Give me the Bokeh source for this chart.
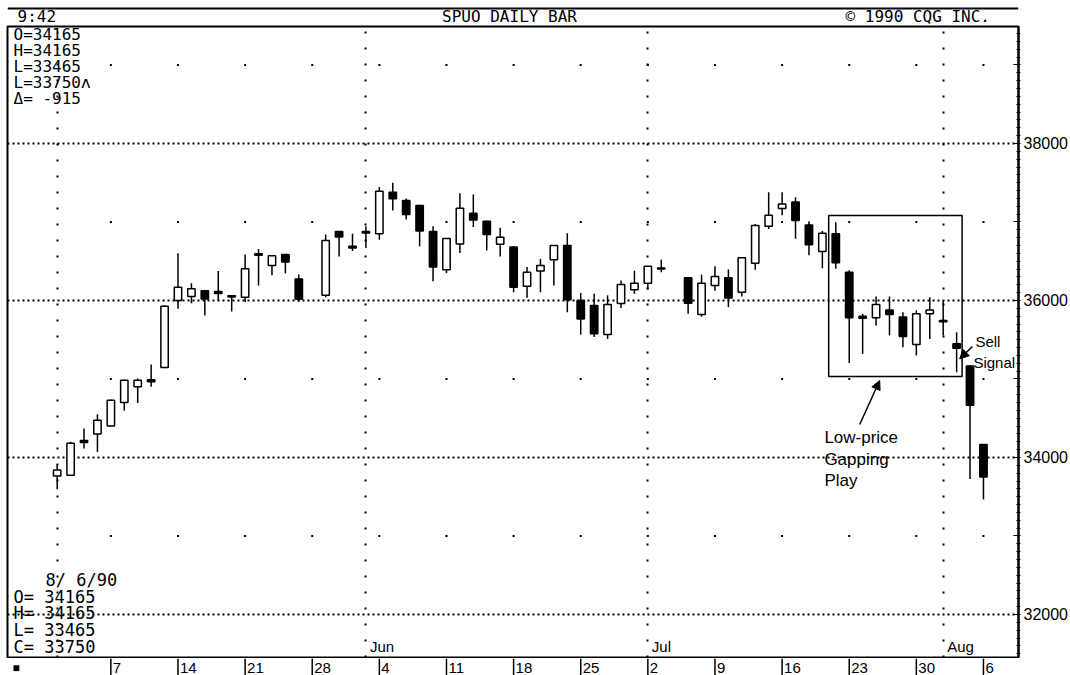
import numpy as np
from bokeh.plotting import figure
from bokeh.models import Range1d, LinearAxis, FixedTicker, Grid, BoxAnnotation, Arrow, NormalHead
from bokeh.layouts import column
from bokeh.core.properties import value
from bokeh.embed import file_html
from bokeh.resources import INLINE

# ---------------- data (SPU0 daily bars, May-Aug 1990) ----------------
dates = ["1990-05-01", "1990-05-02", "1990-05-03", "1990-05-04",
         "1990-05-07", "1990-05-08", "1990-05-09", "1990-05-10", "1990-05-11",
         "1990-05-14", "1990-05-15", "1990-05-16", "1990-05-17", "1990-05-18",
         "1990-05-21", "1990-05-22", "1990-05-23", "1990-05-24", "1990-05-25",
         "1990-05-29", "1990-05-30", "1990-05-31", "1990-06-01",
         "1990-06-04", "1990-06-05", "1990-06-06", "1990-06-07", "1990-06-08",
         "1990-06-11", "1990-06-12", "1990-06-13", "1990-06-14", "1990-06-15",
         "1990-06-18", "1990-06-19", "1990-06-20", "1990-06-21", "1990-06-22",
         "1990-06-25", "1990-06-26", "1990-06-27", "1990-06-28", "1990-06-29",
         "1990-07-02", "1990-07-03", "1990-07-05", "1990-07-06",
         "1990-07-09", "1990-07-10", "1990-07-11", "1990-07-12", "1990-07-13",
         "1990-07-16", "1990-07-17", "1990-07-18", "1990-07-19", "1990-07-20",
         "1990-07-23", "1990-07-24", "1990-07-25", "1990-07-26", "1990-07-27",
         "1990-07-30", "1990-07-31", "1990-08-01", "1990-08-02", "1990-08-03",
         "1990-08-06"]
opens = [33765, 33775, 34215, 34300,
         34400, 34700, 34900, 34990, 35145,
         36000, 36050, 36125, 36115, 36060,
         36040, 36595, 36445, 36585, 36275,
         36065, 36880, 36690, 36880,
         36850, 37380, 37275, 37210, 36880,
         36390, 36720, 37110, 37010, 36715,
         36680, 36180, 36375, 36520, 36700,
         36000, 35935, 35565, 35960, 36135,
         36220, 36415, 36290, 35820,
         36190, 36290, 36105, 36475, 36945,
         37170, 37255, 36960, 36625, 36850,
         36360, 35800, 35780, 35880, 35790,
         35440, 35830, 35745, 35450, 35165,
         34165]
highs = [33915, 34200, 34370, 34550,
         34740, 34990, 35005, 35185, 35935,
         36600, 36220, 36130, 36375, 36065,
         36585, 36655, 36575, 36590, 36330,
         36840, 36885, 36850, 36945,
         37445, 37500, 37300, 37220, 36945,
         36795, 37365, 37350, 37015, 36925,
         36690, 36425, 36530, 36705, 36855,
         36095, 36085, 36065, 36255, 36380,
         36440, 36520, 36290, 36330,
         36435, 36395, 36545, 36975, 37380,
         37380, 37315, 37010, 36885, 36995,
         36385, 35830, 36050, 36050, 35850,
         35875, 36040, 36000, 35595, 35175,
         34165]
lows = [33595, 33770, 34115, 34070,
        34390, 34595, 34695, 34900, 35140,
        35895, 35965, 35810, 36000, 35860,
        35980, 36190, 36320, 36345, 35980,
        36040, 36560, 36630, 36670,
        36775, 37145, 37030, 36690, 36245,
        36350, 36605, 36935, 36635, 36560,
        36105, 36035, 36105, 36190, 35850,
        35565, 35535, 35510, 35905, 36085,
        36140, 36360, 35830, 35795,
        36125, 35915, 36050, 36390, 36910,
        37085, 36785, 36575, 36410, 36405,
        35205, 35320, 35680, 35555, 35405,
        35300, 35510, 35555, 35085, 33725,
        33465]
closes = [33840, 34180, 34190, 34475,
          34730, 34985, 34985, 34965, 35925,
          36170, 36150, 36020, 36090, 36045,
          36405, 36575, 36570, 36490, 36015,
          36765, 36810, 36670, 36860,
          37390, 37295, 37095, 36885, 36425,
          36790, 37175, 37025, 36840, 36805,
          36170, 36360, 36445, 36700, 36010,
          35765, 35575, 35950, 36205, 36220,
          36435, 36400, 35965, 36220,
          36305, 36030, 36545, 36955, 37085,
          37230, 37020, 36710, 36855, 36480,
          35780, 35775, 35950, 35820, 35540,
          35830, 35880, 35730, 35390, 34665,
          33750]

tick_dates = ["1990-05-07", "1990-05-14", "1990-05-21", "1990-05-28", "1990-06-04",
              "1990-06-11", "1990-06-18", "1990-06-25", "1990-07-02", "1990-07-09",
              "1990-07-16", "1990-07-23", "1990-07-30", "1990-08-06"]
tick_labels = ["7", "14", "21", "28", "4", "11", "18", "25", "2", "9", "16", "23", "30", "6"]
month_dates = ["1990-05-01", "1990-06-01", "1990-07-02", "1990-08-01"]
month_labels = ["", "Jun", "Jul", "Aug"]
price_levels = [32000, 34000, 36000, 38000]
dot_levels = [33000, 35000, 37000, 39000]

box_dates = ["1990-07-20", "1990-08-02"]
box_top, box_bottom = 37083, 35032

# ---------------- helpers ----------------
origin = np.datetime64(dates[0])
def slot(d):
    return np.busday_count(origin, np.array(d, dtype="datetime64[D]")).astype(float)

s = slot(dates)
o = np.array(opens, float); h = np.array(highs, float)
l = np.array(lows, float); c = np.array(closes, float)
up = c >= o
tick_s = slot(tick_dates)
month_s = slot(month_dates)

W = 1070
BL, BR = 7, 52
XR = Range1d(-3.70, 71.61)
YR = Range1d(31452, 39490)
MONO = value("DejaVu Sans Mono")
SANS = value("Liberation Sans")

# ---------------- header ----------------
head = figure(width=W, height=25, x_range=Range1d(BL, W - BR), y_range=Range1d(0, 25),
              toolbar_location=None, output_backend="svg",
              min_border_left=BL, min_border_right=BR, min_border_top=0, min_border_bottom=0,
              x_axis_location=None, y_axis_location=None, outline_line_color=None)
head.grid.visible = False
head.segment(x0=[BL], y0=[17], x1=[W - BR], y1=[17], line_color="black", line_width=2)
head.text(x=[17, 509, 845], y=[9, 9, 9], text=["9:42", "SPUO DAILY BAR", "© 1990 CQG INC."],
          text_align=["left", "center", "left"], text_baseline="middle",
          text_font=MONO, text_font_size="16px", text_color="black")

# ---------------- main chart ----------------
p = figure(width=W, height=633, x_range=XR, y_range=YR, toolbar_location=None,
           output_backend="svg", x_axis_location=None, y_axis_location=None,
           min_border_left=BL, min_border_right=BR, min_border_top=1, min_border_bottom=1,
           outline_line_color="black", outline_line_width=2, background_fill_color="white")
p.grid.visible = False

yaxis = LinearAxis(ticker=FixedTicker(ticks=list(range(32000, 40000, 1000)),
                                      minor_ticks=list(range(31500, 39500, 100))),
                   major_label_overrides={float(t): "" for t in dot_levels})
yaxis.axis_line_width = 2
yaxis.major_tick_in = 5
yaxis.major_tick_out = 0
yaxis.minor_tick_in = 2
yaxis.minor_tick_out = 2
yaxis.major_label_standoff = 3
yaxis.major_label_text_font = "Liberation Sans"
yaxis.major_label_text_font_size = "16px"
yaxis.major_label_text_color = "black"
p.add_layout(yaxis, "right")

p.add_layout(Grid(dimension=1, ticker=FixedTicker(ticks=price_levels),
                  grid_line_color="black", grid_line_width=2, grid_line_dash="2 3"), "center")
p.add_layout(Grid(dimension=0, ticker=FixedTicker(ticks=list(month_s)),
                  grid_line_color="black", grid_line_width=2, grid_line_dash="2 14"), "center")

# weekly dot grid on the odd thousands
dx = np.repeat(tick_s, len(dot_levels))
dy = np.tile(np.array(dot_levels, float), len(tick_s))
p.scatter(dx, dy, marker="square", size=2, fill_color="black", line_color=None)

# candlesticks
p.segment(x0=s, y0=l, x1=s, y1=h, line_color="black", line_width=1.5)
p.vbar(x=s[up], top=c[up], bottom=o[up], width=0.55, fill_color="white",
       line_color="black", line_width=1.5)
p.vbar(x=s[~up], top=o[~up], bottom=c[~up], width=0.55, fill_color="black",
       line_color="black", line_width=1.5)

# annotation box + arrows
bs = slot(box_dates)
p.add_layout(BoxAnnotation(left=bs[0] - 0.53, right=bs[1] + 0.41, top=box_top, bottom=box_bottom,
                           fill_color=None, fill_alpha=0, line_color="black", line_alpha=1,
                           line_width=1.5))
p.add_layout(Arrow(end=NormalHead(size=9, fill_color="black", line_color="black"),
                   x_start=59.78, y_start=34420, x_end=61.27, y_end=34981,
                   line_color="black", line_width=1.5))
p.add_layout(Arrow(end=NormalHead(size=9, fill_color="black", line_color="black"),
                   x_start=68.18, y_start=35414, x_end=67.23, y_end=35257,
                   line_color="black", line_width=1.5))
p.text(x=[57.15, 57.15, 57.15], y=[34255, 33974, 33707], text=["Low-price", "Gapping", "Play"],
       text_align="left", text_baseline="middle", text_font=SANS, text_font_size="17px",
       text_color="black")
p.text(x=[68.40, 68.25], y=[35478, 35210], text=["Sell", "Signal"],
       text_align="left", text_baseline="middle", text_font=SANS, text_font_size="15px",
       text_color="black")

# month labels
p.text(x=month_s, y=[31592] * len(month_s), text=month_labels, x_offset=4,
       text_align="left", text_baseline="middle", text_font=SANS, text_font_size="15px",
       text_color="black")

# quote blocks (from the last bar)
last_prev = closes[-2]
top_txt = [f"O={opens[-1]}", f"H={highs[-1]}", f"L={lows[-1]}", f"L={closes[-1]}ʌ",
           f"Δ= {closes[-1] - last_prev}"]
p.text(x=[XR.start] * 5, y=[39389, 39185, 38981, 38777, 38573], text=top_txt, x_offset=6,
       text_align="left", text_baseline="middle", text_font=MONO, text_font_size="16px",
       text_color="black")
d_last = np.datetime64(dates[-1]).astype(object)
date_txt = f"{d_last.month}/{d_last.day:2d}/{d_last.year % 100:02d}"
bot_txt = [f"O= {opens[-1]}", f"H= {highs[-1]}", f"L= {lows[-1]}", f"C= {closes[-1]}"]
p.text(x=[XR.start], y=[32433], text=[date_txt], x_offset=38,
       text_align="left", text_baseline="middle", text_font=MONO, text_font_size="17px",
       text_color="black")
p.text(x=[XR.start] * 4, y=[32217, 32013, 31796, 31592], text=bot_txt, x_offset=6,
       text_align="left", text_baseline="middle", text_font=MONO, text_font_size="17px",
       text_color="black")

# ---------------- date strip ----------------
foot = figure(width=W, height=17, x_range=XR, y_range=Range1d(0, 1), toolbar_location=None,
              output_backend="svg", x_axis_location=None, y_axis_location=None,
              min_border_left=BL, min_border_right=BR, min_border_top=0, min_border_bottom=0,
              outline_line_color=None)
foot.grid.visible = False
foot.segment(x0=tick_s, y0=[0] * len(tick_s), x1=tick_s, y1=[1] * len(tick_s),
             line_color="black", line_width=1.5)
foot.text(x=tick_s, y=[0.42] * len(tick_s), text=tick_labels, x_offset=2,
          text_align="left", text_baseline="middle", text_font=SANS, text_font_size="15px",
          text_color="black")
foot.text(x=[XR.start], y=[0.42], text=["■"], x_offset=5, text_align="left",
          text_baseline="middle", text_font=SANS, text_font_size="12px", text_color="black")

layout = column(head, p, foot, spacing=0)
open("out.html", "w").write(file_html(layout, INLINE))
